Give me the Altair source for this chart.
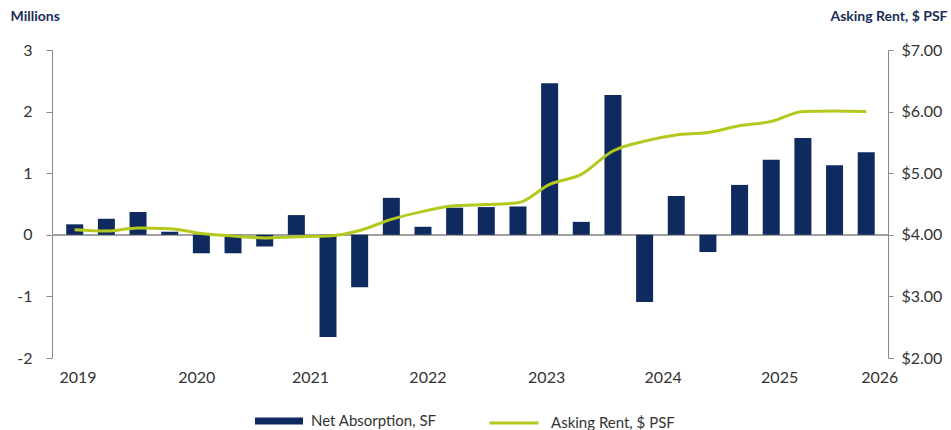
import altair as alt
import pandas as pd

quarters = ["2019 Q1", "2019 Q2", "2019 Q3", "2019 Q4",
            "2020 Q1", "2020 Q2", "2020 Q3", "2020 Q4",
            "2021 Q1", "2021 Q2", "2021 Q3", "2021 Q4",
            "2022 Q1", "2022 Q2", "2022 Q3", "2022 Q4",
            "2023 Q1", "2023 Q2", "2023 Q3", "2023 Q4",
            "2024 Q1", "2024 Q2", "2024 Q3", "2024 Q4",
            "2025 Q1", "2025 Q2"]
net_absorption = [0.17, 0.26, 0.37, 0.05, -0.30, -0.30, -0.19, 0.32,
                  -1.66, -0.85, 0.60, 0.13, 0.44, 0.45, 0.46, 2.46,
                  0.21, 2.27, -1.09, 0.63, -0.28, 0.81, 1.22, 1.57,
                  1.13, 1.34]
asking_rent = [4.08, 4.06, 4.11, 4.10, 4.02, 3.98, 3.95, 3.97,
               3.98, 4.07, 4.25, 4.38, 4.47, 4.49, 4.52, 4.82,
               4.98, 5.36, 5.52, 5.62, 5.66, 5.77, 5.84, 6.00,
               6.01, 6.00]
year_labels = ["2019", "2020", "2021", "2022", "2023", "2024", "2025", "2026"]
year_positions = [0.09, 3.84, 7.43, 11.14, 14.89, 18.57, 22.25, 25.41]

NAVY = "#0f2a5e"
GREEN = "#b4c81e"
TITLE = "#1b2d57"
FONT = "Lato"

df = pd.DataFrame({
    "idx": list(range(len(quarters))),
    "quarter": quarters,
    "absorption": net_absorption,
    "rent": asking_rent,
    "bar_series": ["Net Absorption, SF"] * len(quarters),
    "line_series": ["Asking Rent, $ PSF"] * len(quarters),
})

label_expr = ("[" + ",".join(f"'{y}'" for y in year_labels) + "][indexof(["
              + ",".join(str(p) for p in year_positions) + "], datum.value)]")

x_enc = alt.X(
    "idx:Q",
    scale=alt.Scale(domain=[-0.56, 25.53], nice=False, zero=False),
    axis=alt.Axis(values=year_positions, labelExpr=label_expr, title=None,
                  domain=False, ticks=False, grid=False, labelPadding=11,
                  labelFontSize=16, labelColor="#333333", labelFont=FONT),
)

base = alt.Chart(df)

bars = base.mark_bar(size=17).encode(
    x=x_enc,
    y=alt.Y("absorption:Q",
            scale=alt.Scale(domain=[-2, 3], nice=False),
            axis=alt.Axis(values=[-2, -1, 0, 1, 2, 3], labelExpr="'' + datum.value",
                          title="Millions", titleAngle=0, titleAlign="left",
                          titleBaseline="middle", titleX=-42, titleY=-34,
                          titleFontSize=14, titleFontWeight="bold",
                          titleColor=TITLE, titleFont=FONT,
                          tickSize=6, labelPadding=14, labelFontSize=16,
                          labelColor="#333333", labelFont=FONT,
                          domainColor="#8a8a8a", tickColor="#8a8a8a",
                          grid=False)),
    color=alt.Color("bar_series:N",
                    scale=alt.Scale(domain=["Net Absorption, SF"], range=[NAVY]),
                    legend=alt.Legend(title=None, orient="none", legendX=203, legendY=347,
                                      symbolType="M-1,-0.15H1V0.15H-1Z",
                                      symbolSize=2304, symbolStrokeWidth=0,
                                      labelFontSize=15, labelColor="#333333",
                                      labelFont=FONT, labelOffset=8)),
)

zero = base.mark_rule(color="#a0a0a0", strokeWidth=1.2).encode(
    y=alt.datum(0)
)

line = base.mark_line(strokeWidth=3, interpolate="monotone").encode(
    x=x_enc,
    y=alt.Y("rent:Q",
            scale=alt.Scale(domain=[2, 7], nice=False, zero=False),
            axis=alt.Axis(orient="right", values=[2, 3, 4, 5, 6, 7], format="$.2f",
                          title="Asking Rent, $ PSF", titleAngle=0, titleAlign="right",
                          titleBaseline="middle", titleX=59, titleY=-34,
                          titleFontSize=14, titleFontWeight="bold",
                          titleColor=TITLE, titleFont=FONT,
                          tickSize=5, labelPadding=8, labelFontSize=16,
                          labelColor="#333333", labelFont=FONT,
                          domainColor="#8a8a8a", tickColor="#8a8a8a",
                          grid=False)),
    stroke=alt.Stroke("line_series:N",
                      scale=alt.Scale(domain=["Asking Rent, $ PSF"], range=[GREEN]),
                      legend=alt.Legend(title=None, orient="none", legendX=436, legendY=347,
                                        symbolType="stroke", symbolSize=2401,
                                        symbolStrokeWidth=3,
                                        labelFontSize=15, labelColor="#333333",
                                        labelFont=FONT, labelOffset=11)),
)

chart = alt.layer(alt.layer(zero, bars), line).resolve_scale(
    y="independent"
).properties(
    width=836,
    height=308,
    autosize=alt.AutoSizeParams(type="none"),
    padding={"left": 52, "top": 50, "right": 63, "bottom": 72},
    background="white",
).configure_view(stroke=None)

chart.save("out.html", embed_options={"renderer": "svg", "actions": False})
